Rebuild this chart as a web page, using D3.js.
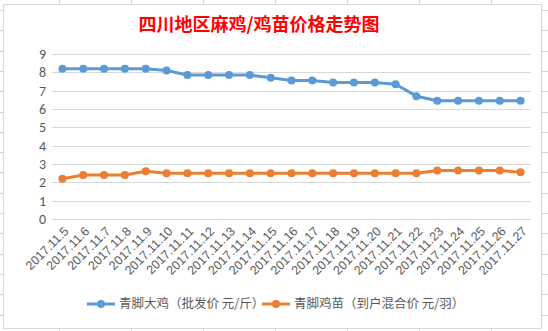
<!DOCTYPE html>
<html><head><meta charset="utf-8">
<script src="https://cdn.jsdelivr.net/npm/d3@7"></script>
<style>html,body{margin:0;padding:0;background:#fff;}svg{display:block;}</style>
</head><body>
<script>
const categories = ["2017.11.5","2017.11.6","2017.11.7","2017.11.8","2017.11.9","2017.11.10","2017.11.11","2017.11.12","2017.11.13","2017.11.14","2017.11.15","2017.11.16","2017.11.17","2017.11.18","2017.11.19","2017.11.20","2017.11.21","2017.11.22","2017.11.23","2017.11.24","2017.11.25","2017.11.26","2017.11.27"];
const bigChicken = [8.2,8.2,8.2,8.2,8.2,8.1,7.85,7.85,7.85,7.85,7.7,7.55,7.55,7.45,7.45,7.45,7.35,6.7,6.45,6.45,6.45,6.45,6.45];
const chick = [2.2,2.4,2.4,2.4,2.6,2.5,2.5,2.5,2.5,2.5,2.5,2.5,2.5,2.5,2.5,2.5,2.5,2.5,2.65,2.65,2.65,2.65,2.55];
const yTicks = [0,1,2,3,4,5,6,7,8,9];
const seriesNames = ["青脚大鸡（批发价 元/斤）","青脚鸡苗（到户混合价 元/羽）"];
const title = "四川地区麻鸡/鸡苗价格走势图";

const W = 548, H = 331;
const svg = d3.select("body").append("svg").attr("width", W).attr("height", H);

// spreadsheet background grid
const colXs = d3.range(-13, 548, 72);
const rowYs = d3.range(10, 331, 20.3);
svg.append("g").selectAll("line").data(colXs).join("line")
  .attr("x1", d => d + 0.5).attr("x2", d => d + 0.5).attr("y1", 0).attr("y2", H)
  .attr("stroke", "#d4d4d4");
svg.append("g").selectAll("line").data(rowYs).join("line")
  .attr("x1", 0).attr("x2", W).attr("y1", d => Math.round(d) + 0.5).attr("y2", d => Math.round(d) + 0.5)
  .attr("stroke", "#d4d4d4");

// chart area
svg.append("rect").attr("x", 3.5).attr("y", 4.5).attr("width", 538).attr("height", 324)
  .attr("fill", "#fff").attr("stroke", "#d9d9d9");

svg.append("text").attr("x", 259).attr("y", 31).attr("text-anchor", "middle")
  .attr("font-family", "'Noto Sans CJK SC', sans-serif").attr("font-weight", "bold")
  .attr("font-size", 18).attr("fill", "#ff0000").text(title);

const x = d3.scaleBand().domain(categories).range([52, 531]);
const y = d3.scaleLinear().domain([0, 9]).range([219, 54]);
const cx = d => x(d) + x.bandwidth() / 2;

// gridlines
svg.append("g").selectAll("line").data(yTicks).join("line")
  .attr("x1", 52).attr("x2", 531)
  .attr("y1", d => Math.round(y(d)) + 0.5).attr("y2", d => Math.round(y(d)) + 0.5)
  .attr("stroke", "#d9d9d9");

// y axis labels
const yAxis = d3.axisLeft(y).tickValues(yTicks).tickSize(0).tickPadding(0);
const yg = svg.append("g").attr("transform", "translate(46,0)").call(yAxis);
yg.select(".domain").remove();
yg.selectAll("text").attr("font-family", "Calibri, 'Liberation Sans', 'Open Sans', sans-serif")
  .attr("font-size", 14).attr("fill", "#595959");

// x axis labels
const xAxis = d3.axisBottom(x).tickSize(0).tickPadding(0);
const xg = svg.append("g").attr("transform", "translate(0,219)").call(xAxis);
xg.select(".domain").remove();
xg.selectAll("text")
  .attr("font-family", "'Liberation Sans', 'Open Sans', sans-serif")
  .attr("font-size", 12.5).attr("fill", "#595959")
  .attr("text-anchor", "end").attr("dy", null)
  .attr("transform", "translate(7,13) rotate(-45)");

const colors = ["#5b9bd5", "#ed7d31"];
const series = [bigChicken, chick];
const line = d3.line().x((d, i) => cx(categories[i])).y(d => y(d));
series.forEach((s, k) => {
  svg.append("path").datum(s).attr("d", line).attr("fill", "none")
    .attr("stroke", colors[k]).attr("stroke-width", 3).attr("stroke-linejoin", "round");
  svg.append("g").selectAll("circle").data(s).join("circle")
    .attr("cx", (d, i) => cx(categories[i])).attr("cy", d => y(d)).attr("r", 4)
    .attr("fill", colors[k]);
});

// legend
const legendY = 304;
const legendX = [87, 262];
seriesNames.forEach((n, k) => {
  const g = svg.append("g").attr("transform", `translate(${legendX[k]},${legendY})`);
  g.append("line").attr("x1", 0).attr("x2", 28).attr("y1", 0).attr("y2", 0)
    .attr("stroke", colors[k]).attr("stroke-width", 3);
  g.append("circle").attr("cx", 14).attr("cy", 0).attr("r", 4).attr("fill", colors[k]);
  g.append("text").attr("x", 32).attr("y", 0).attr("dy", "0.35em")
    .attr("font-family", "'Noto Sans CJK SC', sans-serif").attr("font-size", 12.5)
    .attr("fill", "#595959").text(n);
});
</script>
</body></html>
